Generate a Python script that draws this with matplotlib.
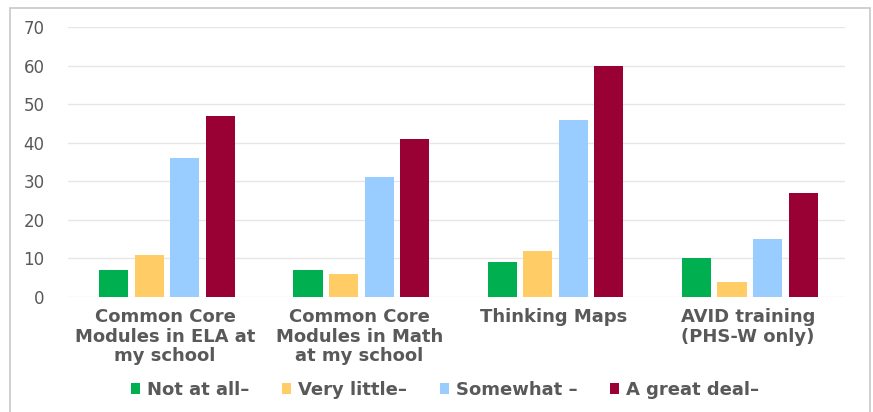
import numpy as np
import matplotlib.pyplot as plt
from matplotlib.patches import Rectangle

# ── Data ──────────────────────────────────────────────────────────────────────
categories = [
    "Common Core\nModules in ELA at\nmy school",
    "Common Core\nModules in Math\nat my school",
    "Thinking Maps",
    "AVID training\n(PHS-W only)",
]
series_names = ["Not at all\u2013", "Very little\u2013", "Somewhat \u2013", "A great deal\u2013"]
not_at_all = [7, 7, 9, 10]
very_little = [11, 6, 12, 4]
somewhat = [36, 31, 46, 15]
great_deal = [47, 41, 60, 27]
colors = ["#00B050", "#FFCC66", "#99CCFF", "#990033"]

# ── Figure ────────────────────────────────────────────────────────────────────
fig = plt.figure(figsize=(8.73, 4.12), dpi=100)
fig.patches.append(Rectangle((10 / 873, -0.02), 860 / 873, 1 - 8 / 412 + 0.02,
                             transform=fig.transFigure, fill=False,
                             edgecolor="#C8C8C8", linewidth=1.2))
ax = fig.add_axes([68 / 873, 1 - 297 / 412, 777 / 873, 270 / 412])

x = np.arange(len(categories))
step = 0.183
width = 0.15
for i, (vals, name, c) in enumerate(zip([not_at_all, very_little, somewhat, great_deal],
                                        series_names, colors)):
    ax.bar(x + (i - 1.5) * step + 0.01, vals, width, color=c, label=name, zorder=3)

ax.set_xlim(-0.5, 3.5)
ax.set_ylim(0, 70)
ax.set_yticks(range(0, 71, 10))
ax.grid(axis="y", color="#E6E6E6", linewidth=1, zorder=0)
for s in ax.spines.values():
    s.set_visible(False)
ax.tick_params(axis="both", length=0)
ax.tick_params(axis="y", labelsize=12, labelcolor="#595959", pad=17)
ax.set_xticks(x)
ax.set_xticklabels(categories, fontsize=13, fontweight="bold", color="#595959",
                   linespacing=1.1)
ax.tick_params(axis="x", pad=8)

fig.legend(loc="center", bbox_to_anchor=(445 / 873, 1 - 390 / 412), ncol=4,
           frameon=False, handlelength=0.5, handleheight=0.5, handletextpad=0.4,
           columnspacing=1.8, prop={"size": 13, "weight": "bold"},
           labelcolor="#595959")

fig.savefig("out.png", dpi=100)
